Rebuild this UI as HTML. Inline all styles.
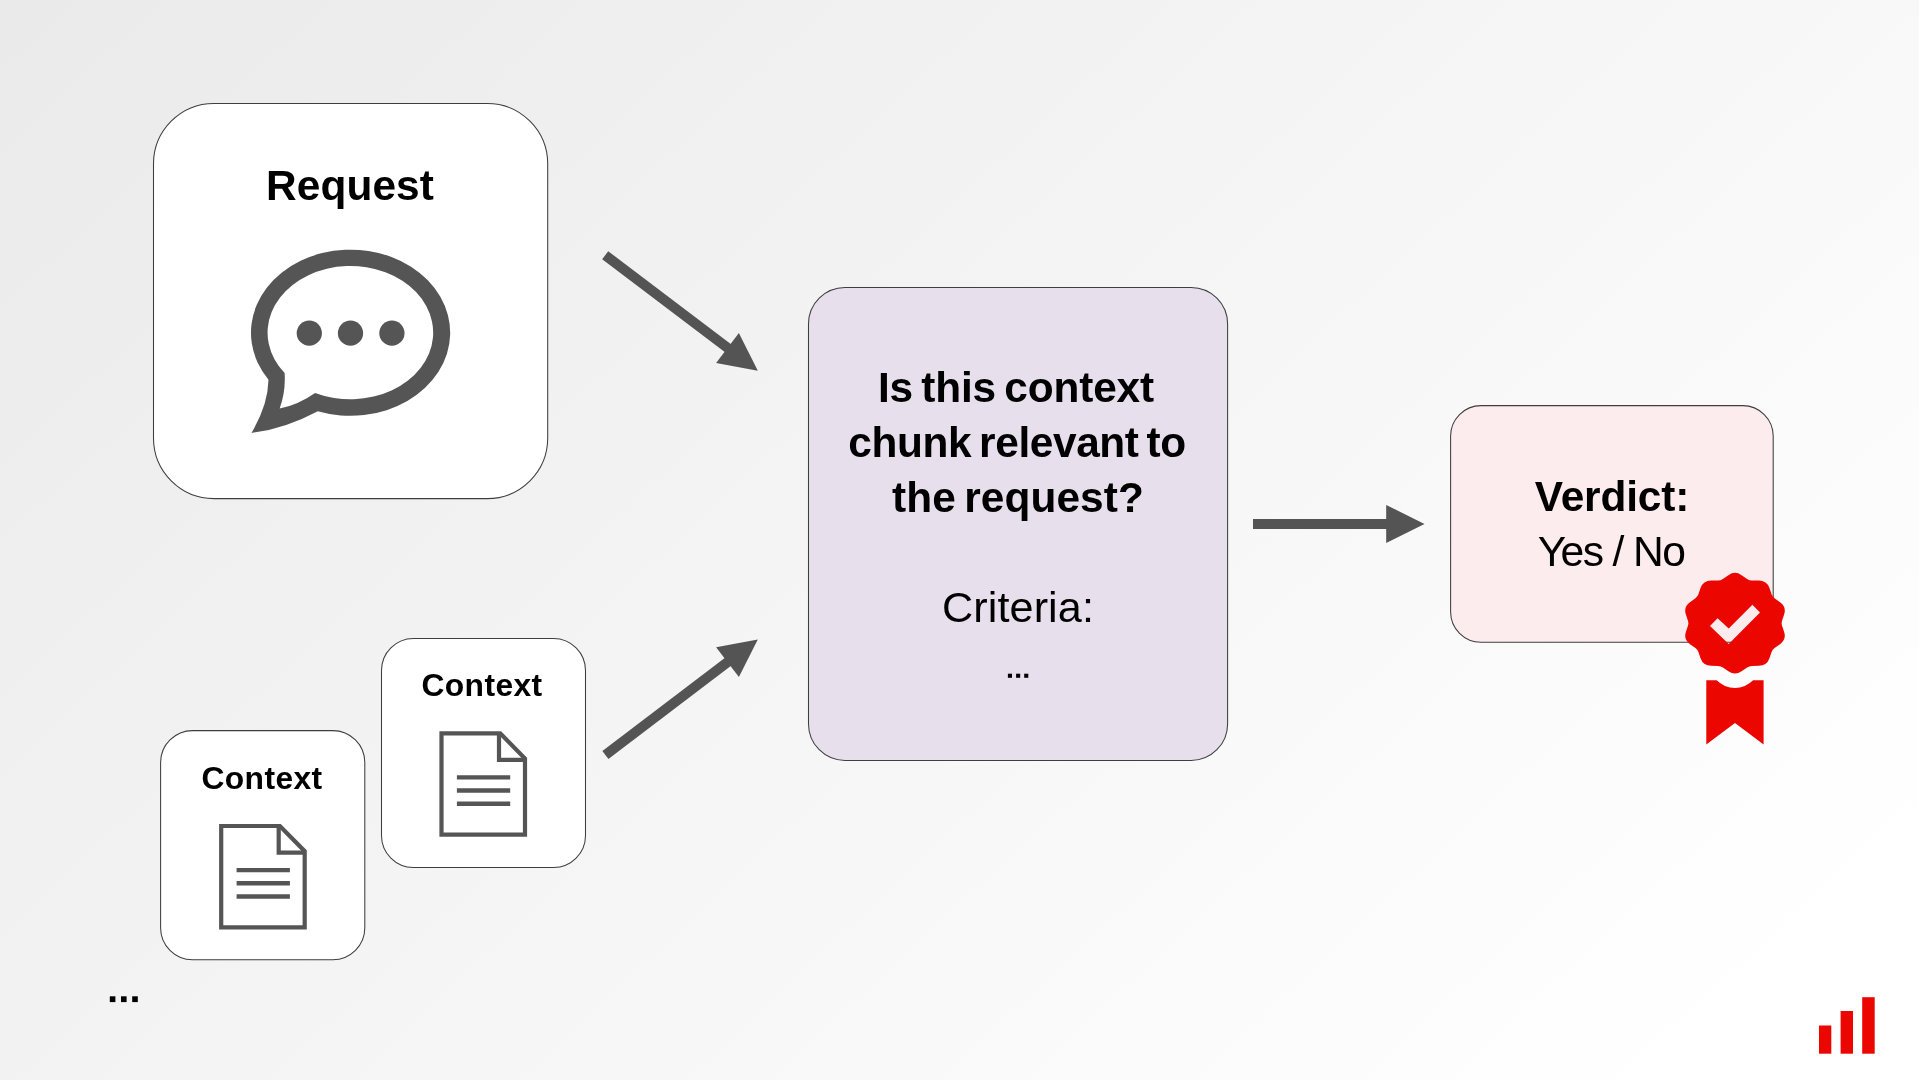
<!DOCTYPE html>
<html>
<head>
<meta charset="utf-8">
<title>Context relevance diagram</title>
<style>
  html, body { margin: 0; padding: 0; }
  body {
    width: 1919px; height: 1080px; overflow: hidden; position: relative;
    font-family: "Liberation Sans", sans-serif; color: #000;
    background: linear-gradient(137deg, #eaeaea 0%, #ffffff 92%);
  }
  #art { position: absolute; left: 0; top: 0; width: 1919px; height: 1080px; }
  .t { position: absolute; white-space: nowrap; line-height: 1; text-align: center; will-change: transform; }
  .b { font-weight: bold; }
</style>
</head>
<body>
<svg id="art" width="1919" height="1080" viewBox="0 0 1919 1080">
  <!-- boxes -->
  <g stroke="#3e3e3e" stroke-width="1.05">
    <rect x="153.5" y="103.5" width="394.2" height="395.1" rx="60.5" ry="60.5" fill="#ffffff"/>
    <rect x="160.6" y="730.6" width="204.2" height="229.1" rx="32" ry="32" fill="#ffffff"/>
    <rect x="381.5" y="638.4" width="204" height="229" rx="32" ry="32" fill="#ffffff"/>
    <rect x="808.5" y="287.4" width="419.1" height="473" rx="36.5" ry="36.5" fill="#e7dfec"/>
    <rect x="1450.6" y="405.6" width="322.6" height="236.6" rx="30.5" ry="30.5" fill="#fdecee"/>
  </g>

  <!-- arrows -->
  <g fill="#545454" stroke="none">
    <g id="a1">
      <line x1="605.2" y1="255.2" x2="735" y2="353.5" stroke="#545454" stroke-width="10"/>
      <polygon points="757.8,370.8 738.9,333.1 716.1,363"/>
    </g>
    <g id="a2">
      <line x1="605.4" y1="754.9" x2="733" y2="658" stroke="#545454" stroke-width="10"/>
      <polygon points="757.8,639.4 738.9,677.1 716.1,647.2"/>
    </g>
    <g id="a3">
      <rect x="1253" y="519" width="134" height="10"/>
      <polygon points="1424.5,524 1386.2,504.9 1386.2,543.1"/>
    </g>
  </g>

  <!-- chat icon -->
  <g id="chat" fill="#555555">
    <path fill-rule="evenodd" d="M268.5,379.8 A99.6,83.1 0 1 1 317.8,411.2 Q284.6,428.9 251.5,432.9 Q268,405 268.5,379.8 Z M284.6,373.1 Q285.9,390.6 279.7,408.6 Q299.2,404.2 315.1,392.9 A82.8,66.6 0 1 0 284.6,373.1 Z"/>
    <circle cx="309.3" cy="333.2" r="12.6"/>
    <circle cx="350.5" cy="333.2" r="12.6"/>
    <circle cx="391.9" cy="333.2" r="12.6"/>
  </g>

  <!-- document icons -->
  <g transform="translate(439.4,731.2)" fill="none" stroke="#555555" stroke-width="4.2" stroke-linejoin="miter">
      <path d="M2.1,2.1 H60.8 L85.6,27.3 V103.5 H2.1 Z"/>
      <path d="M59.6,2.1 V28.7 H85.6"/>
      <path d="M17.5,46.2 H70.8 M17.5,59.3 H70.8 M17.5,72.6 H70.8" stroke-width="4.4"/>
    </g>
  <g transform="translate(219.1,823.9)" fill="none" stroke="#555555" stroke-width="4.2" stroke-linejoin="miter">
      <path d="M2.1,2.1 H60.8 L85.6,27.3 V103.5 H2.1 Z"/>
      <path d="M59.6,2.1 V28.7 H85.6"/>
      <path d="M17.5,46.2 H70.8 M17.5,59.3 H70.8 M17.5,72.6 H70.8" stroke-width="4.4"/>
    </g>

  <!-- badge -->
  <g id="badge" fill="#ec0600">
    <path id="seal" fill-rule="evenodd" d="M1728.38,575.13 L1728.38,575.13 A11.33,11.00 0 0 1 1741.62,575.13 L1747.15,579.00 A8.24,8.00 0 0 0 1751.93,580.51 L1758.74,580.53 A11.33,11.00 0 0 1 1769.46,588.09 L1771.59,594.37 A8.24,8.00 0 0 0 1774.55,598.32 L1780.04,602.23 A11.33,11.00 0 0 1 1784.13,614.46 L1782.05,620.76 A8.24,8.00 0 0 0 1782.05,625.64 L1784.13,631.94 A11.33,11.00 0 0 1 1780.04,644.17 L1774.55,648.08 A8.24,8.00 0 0 0 1771.59,652.03 L1769.46,658.31 A11.33,11.00 0 0 1 1758.74,665.87 L1751.93,665.89 A8.24,8.00 0 0 0 1747.15,667.40 L1741.62,671.27 A11.33,11.00 0 0 1 1728.38,671.27 L1722.85,667.40 A8.24,8.00 0 0 0 1718.07,665.89 L1711.26,665.87 A11.33,11.00 0 0 1 1700.54,658.31 L1698.41,652.03 A8.24,8.00 0 0 0 1695.45,648.08 L1689.96,644.17 A11.33,11.00 0 0 1 1685.87,631.94 L1687.95,625.64 A8.24,8.00 0 0 0 1687.95,620.76 L1685.87,614.46 A11.33,11.00 0 0 1 1689.96,602.23 L1695.45,598.32 A8.24,8.00 0 0 0 1698.41,594.37 L1700.54,588.09 A11.33,11.00 0 0 1 1711.26,580.53 L1718.07,580.51 A8.24,8.00 0 0 0 1722.85,579.00 Z M1710,625.9 L1717.6,618.3 L1728.7,628.6 L1752.4,604.7 L1760,612.6 L1728.7,644.1 Z"/>
    <path d="M1706.3,680.3 H1716.7 A25.5,25.5 0 0 0 1753.1,680.3 H1763.6 V744.6 L1735,723.1 L1706.3,744.6 Z"/>
  </g>

  <!-- logo -->
  <g fill="#ec0600">
    <rect x="1819" y="1025.5" width="12.3" height="28.2"/>
    <rect x="1840.6" y="1011" width="12.4" height="42.7"/>
    <rect x="1862.2" y="997.2" width="12.5" height="56.5"/>
  </g>

  <!-- small dot ellipses -->
  <g fill="#000">
    <rect x="109.8" y="996.3" width="5.6" height="5.8"/>
    <rect x="121" y="996.3" width="5.6" height="5.8"/>
    <rect x="132.2" y="996.3" width="5.6" height="5.8"/>
    <rect x="1007.9" y="673.7" width="4.1" height="4.1"/>
    <rect x="1016.1" y="673.7" width="4.1" height="4.1"/>
    <rect x="1024.2" y="673.7" width="4.1" height="4.1"/>
  </g>
</svg>

<div class="t b" id="t-req" style="left:249.9px; top:165.3px; width:200px; font-size:42.4px; letter-spacing:0.1px;">Request</div>
<div class="t b" id="t-c1" style="left:382px; top:670.3px; width:200px; font-size:31.8px; letter-spacing:0.4px;">Context</div>
<div class="t b" id="t-c2" style="left:162px; top:763.2px; width:200px; font-size:31.8px; letter-spacing:0.4px;">Context</div>
<div class="t b" id="t-l1" style="left:816.4px; top:367.3px; width:400px; font-size:42.4px; letter-spacing:-0.13px; word-spacing:-3.5px;">Is this context</div>
<div class="t b" id="t-l2" style="left:816.6px; top:421.5px; width:400px; font-size:42.4px; letter-spacing:-0.39px; word-spacing:-3.5px;">chunk relevant to</div>
<div class="t b" id="t-l3" style="left:818px; top:476.8px; width:400px; font-size:42.4px; letter-spacing:0.09px; word-spacing:-3.5px;">the request?</div>
<div class="t" id="t-cr" style="left:817.5px; top:586px; width:400px; font-size:43.2px; letter-spacing:0.1px;">Criteria:</div>
<div class="t b" id="t-v1" style="left:1462px; top:475.6px; width:300px; font-size:42.4px; letter-spacing:-0.15px;">Verdict:</div>
<div class="t" id="t-v2" style="left:1460.8px; top:530.3px; width:300px; font-size:42.6px; letter-spacing:-1.6px;">Yes / No</div>

</body>
</html>
